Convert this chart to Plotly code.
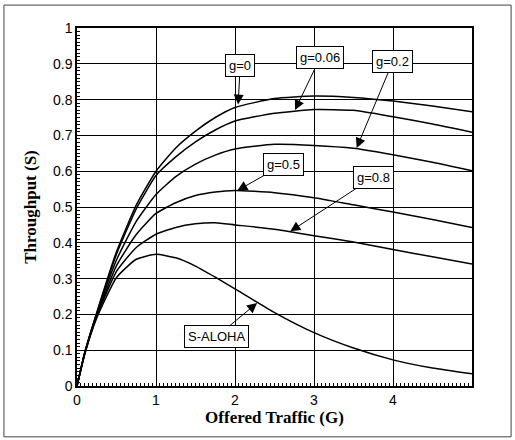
import plotly.graph_objects as go

G = [0, 0.1, 0.25, 0.5, 0.75, 1.0, 1.25, 1.5, 1.75, 2.0, 2.5, 3.0, 3.5, 4.0, 4.5, 5.0]

S_g0    = [0, 0.095, 0.205, 0.375, 0.505, 0.60, 0.665, 0.712, 0.750, 0.778, 0.803, 0.810, 0.806, 0.796, 0.782, 0.766]
S_g006  = [0, 0.095, 0.203, 0.368, 0.495, 0.588, 0.640, 0.682, 0.715, 0.740, 0.762, 0.772, 0.770, 0.752, 0.732, 0.709]
S_g02   = [0, 0.094, 0.200, 0.352, 0.460, 0.535, 0.585, 0.620, 0.645, 0.662, 0.675, 0.672, 0.664, 0.646, 0.625, 0.601]
S_g05   = [0, 0.093, 0.197, 0.336, 0.423, 0.482, 0.512, 0.532, 0.542, 0.546, 0.540, 0.526, 0.506, 0.486, 0.465, 0.443]
S_g08   = [0, 0.092, 0.195, 0.320, 0.387, 0.424, 0.443, 0.453, 0.456, 0.450, 0.438, 0.420, 0.402, 0.381, 0.361, 0.341]
S_aloha = [0, 0.090, 0.190, 0.303, 0.354, 0.368, 0.358, 0.335, 0.304, 0.271, 0.205, 0.149, 0.106, 0.073, 0.050, 0.034]

series = [S_g0, S_g006, S_g02, S_g05, S_g08, S_aloha]

labels = ["g=0", "g=0.06", "g=0.2", "g=0.5", "g=0.8", "S-ALOHA"]
tips_G = [2.04, 2.76, 3.54, 2.03, 2.70, 2.28]
tips_S = [0.786, 0.771, 0.665, 0.546, 0.432, 0.232]
offs = [(2, -39), (25, -52), (36, -86), (46, -26), (83, -54), (-41, 34)]

x_ticks = [0, 1, 2, 3, 4]

fig = go.Figure()
for s in series:
    fig.add_trace(go.Scatter(x=G, y=s, mode="lines", line=dict(color="black", width=1.5, shape="spline", smoothing=0.5),
                             showlegend=False, hoverinfo="skip"))

for lab, gx, sy, (ax, ay) in zip(labels, tips_G, tips_S, offs):
    fig.add_annotation(x=gx, y=sy, ax=ax, ay=ay, text=lab, showarrow=True,
                       arrowhead=2, arrowsize=2, arrowwidth=1, arrowcolor="black",
                       font=dict(family="Liberation Sans, Arial", size=13, color="black"),
                       bgcolor="white", bordercolor="black", borderwidth=1, borderpad=3)

# outer frame
fig.add_shape(type="rect", xref="paper", yref="paper", x0=-0.185, x1=1.099, y0=-0.142, y1=1.064,
              line=dict(color="#444", width=1), layer="below")

fig.update_layout(
    width=515, height=440,
    margin=dict(l=77, r=43, t=28, b=54),
    paper_bgcolor="white", plot_bgcolor="white",
    font=dict(family="Liberation Sans, Arial", size=14, color="black"),
    xaxis=dict(range=[0, 5], tickvals=x_ticks, ticktext=[str(v) for v in x_ticks],
               showgrid=True, gridcolor="black", gridwidth=1.3, zeroline=False,
               showline=True, linecolor="black", linewidth=2, mirror=True, automargin=False,
               ticks="inside", ticklen=4, tickcolor="black",
               minor=dict(dtick=0.05, ticks="inside", ticklen=3, tickcolor="black", showgrid=False),
               title=dict(text="<b>Offered Traffic (G)</b>", standoff=3,
                          font=dict(family="Liberation Serif, Times New Roman", size=17, color="black")),
               tickfont=dict(size=14)),
    yaxis=dict(range=[0, 1], dtick=0.1, tick0=0,
               showgrid=True, gridcolor="black", gridwidth=1.3, zeroline=False,
               showline=True, linecolor="black", linewidth=1.5, mirror=True, automargin=False,
               ticks="inside", ticklen=4, tickcolor="black",
               minor=dict(dtick=0.01, ticks="inside", ticklen=3, tickcolor="black", showgrid=False),
               title=dict(text="<b>Throughput (S)</b>", standoff=12,
                          font=dict(family="Liberation Serif, Times New Roman", size=17, color="black")),
               tickfont=dict(size=14)),
)

fig.write_html("out.html", config={"displayModeBar": False},
               post_script="document.body.style.margin='0';")
